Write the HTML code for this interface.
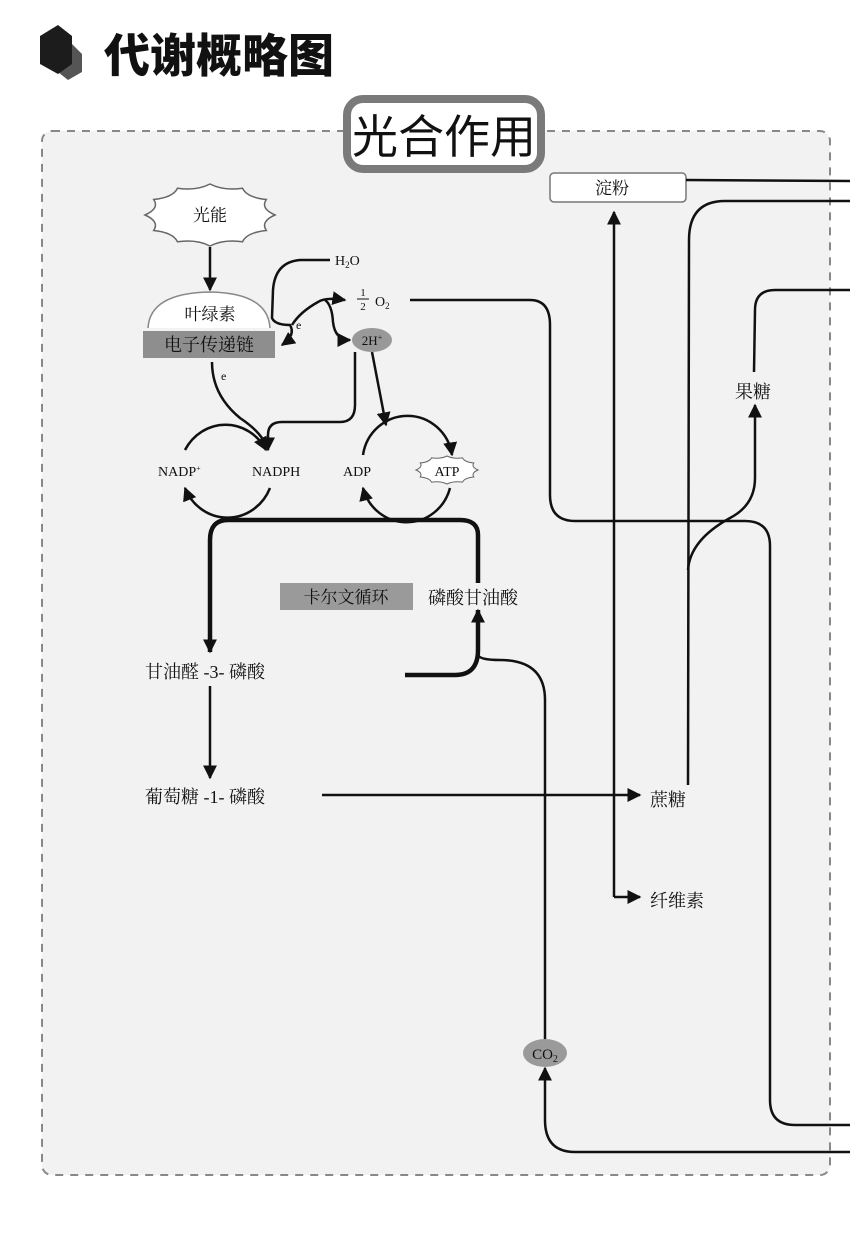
<!DOCTYPE html>
<html><head><meta charset="utf-8"><style>
html,body{margin:0;padding:0;background:#fff;}
svg{display:block;}
text{font-family:"Liberation Serif","Noto Serif CJK SC","Noto Sans CJK SC",serif;fill:#111;}
.cjk{font-family:"Liberation Sans","Noto Sans CJK SC",sans-serif;}
</style></head><body>
<svg width="850" height="1238" viewBox="0 0 850 1238" xmlns="http://www.w3.org/2000/svg">
<defs>
<marker id="ab" viewBox="0 0 10 10" refX="9" refY="5" markerWidth="14" markerHeight="14" orient="auto" markerUnits="userSpaceOnUse"><path d="M0,0L10,5L0,10z" fill="#111"/></marker>
</defs>
<!-- title -->
<polygon points="58,50 72,44 82,54 82,72 68,80 58,72" fill="#555"/>
<polygon points="40,36 58,25 72,36 72,64 58,74 40,64" fill="#1c1c1c"/>
<text x="104" y="72" class="cjk" font-size="46" style="font-family:'Noto Sans CJK SC',sans-serif;font-weight:900">代谢概略图</text>
<!-- dashed area -->
<rect x="42" y="131" width="788" height="1044" rx="10" fill="#f2f2f2" stroke="#888" stroke-width="2" stroke-dasharray="8,7"/>
<!-- title box -->
<rect x="347" y="99" width="194" height="70" rx="16" fill="#fff" stroke="#7a7a7a" stroke-width="8"/>
<text x="444" y="153" text-anchor="middle" class="cjk" font-size="46" style="font-family:'Noto Sans CJK SC',sans-serif">光合作用</text>
<!-- 淀粉 -->
<rect x="550" y="173" width="136" height="29" rx="4" fill="#fff" stroke="#777" stroke-width="1.5"/>
<text x="612" y="194" text-anchor="middle" font-size="17">淀粉</text>
<g fill="none" stroke="#111" stroke-width="2.5">
<path d="M686,180 L850,181"/>
<path d="M850,201 L725,201 Q689,201 689,240 L688,785"/>
<path d="M850,290 L775,290 Q755,290 755,310 L754,372"/>
<path d="M688,570 Q690,540 730,518 Q755,505 755,478 L755,405" marker-end="url(#ab)"/>
<path d="M410,300 L530,300 Q550,300 550,325 L550,495 Q550,521 575,521 L745,521 Q770,521 770,546 L770,1100 Q770,1125 795,1125 L850,1125"/>
<path d="M614,897 L614,212" marker-end="url(#ab)"/>
<path d="M614,897 L640,897" marker-end="url(#ab)"/>
<path d="M322,795 L640,795" marker-end="url(#ab)"/>
<path d="M478,655 Q480,660 500,660 Q545,660 545,700 L545,1040"/>
<path d="M850,1152 L575,1152 Q545,1152 545,1120 L545,1068" marker-end="url(#ab)"/>
</g>
<!-- thick calvin -->
<g fill="none" stroke="#111" stroke-width="4.5">
<path d="M405,675 L455,675 Q478,675 478,650 L478,610" marker-end="url(#ab)"/>
<path d="M478,583 L478,535 Q478,520 460,520 L228,520 Q210,520 210,540 L210,652" marker-end="url(#ab)"/>
</g>
<path d="M210,686 L210,778" stroke="#111" stroke-width="2.5" fill="none" marker-end="url(#ab)"/>
<rect x="280" y="583" width="133" height="27" fill="#9a9a9a"/>
<text x="346" y="603" text-anchor="middle" font-size="17" fill="#333">卡尔文循环</text>
<text x="428" y="604" font-size="18">磷酸甘油酸</text>
<text x="145" y="678" font-size="18">甘油醛 -3- 磷酸</text>
<text x="145" y="803" font-size="18">葡萄糖 -1- 磷酸</text>
<text x="650" y="806" font-size="18">蔗糖</text>
<text x="650" y="907" font-size="18">纤维素</text>
<text x="735" y="398" font-size="18">果糖</text>
<ellipse cx="545" cy="1053" rx="22" ry="14" fill="#9a9a9a"/>
<text x="545" y="1059" text-anchor="middle" font-size="15">CO<tspan font-size="10" dy="3">2</tspan></text>
<!-- light reaction -->
<path d="M275,215 Q260.2,221.4 266.3,230.5 Q246.8,232.5 242.5,241.8 Q223.5,239 210,246 Q196.5,239 177.5,241.8 Q173.2,232.5 153.7,230.5 Q159.8,221.4 145,215 Q159.8,208.6 153.7,199.5 Q173.2,197.5 177.5,188.2 Q196.5,191 210,184 Q223.5,191 242.5,188.2 Q246.8,197.5 266.3,199.5 Q260.2,208.6 275,215Z" fill="#fff" stroke="#666" stroke-width="1.5"/>
<text x="210" y="221" text-anchor="middle" font-size="17">光能</text>
<path d="M210,247 L210,290" stroke="#111" stroke-width="2.5" marker-end="url(#ab)"/>
<path d="M148,328 Q150,293 210,292 Q268,293 270,328" fill="#fff" stroke="#888" stroke-width="1.5"/>
<text x="210" y="320" text-anchor="middle" font-size="17">叶绿素</text>
<rect x="143" y="331" width="132" height="27" fill="#8e8e8e"/>
<text x="209" y="351" text-anchor="middle" font-size="18" fill="#222">电子传递链</text>
<g fill="none" stroke="#111" stroke-width="2.5">
<path d="M330,260 L300,260 Q275,262 273,290 L272,318 Q275,325 290,325 Q296,335 282,345" marker-end="url(#ab)"/>
<path d="M292,325 Q300,312 318,302 Q325,297 345,300" marker-end="url(#ab)"/>
<path d="M325,300 Q332,305 333,322 Q335,340 350,340" marker-end="url(#ab)"/>
<path d="M355,352 L355,405 Q355,422 340,422 L282,422 Q268,422 268,435 L268,450" marker-end="url(#ab)"/>
<path d="M372,352 L386,425" marker-end="url(#ab)"/>
<path d="M212,362 Q212,395 240,418 Q255,428 262,438"/>
<path d="M185,450 A46,48 0 0,1 266,450" marker-end="url(#ab)"/>
<path d="M270,488 A46,48 0 0,1 185,488" marker-end="url(#ab)"/>
<path d="M363,455 A45,46 0 0,1 452,455" marker-end="url(#ab)"/>
<path d="M450,488 A45,46 0 0,1 363,488" marker-end="url(#ab)"/>
</g>
<text x="335" y="265" font-size="14">H<tspan font-size="9" dy="3">2</tspan><tspan dy="-3">O</tspan></text>
<text x="296" y="329" font-size="12">e</text>
<text x="221" y="380" font-size="12">e</text>
<text x="363" y="296" font-size="11" text-anchor="middle">1</text>
<line x1="357" y1="299" x2="369" y2="299" stroke="#111" stroke-width="1"/>
<text x="363" y="310" font-size="11" text-anchor="middle">2</text>
<text x="375" y="306" font-size="14">O<tspan font-size="9" dy="3">2</tspan></text>
<ellipse cx="372" cy="340" rx="20" ry="12" fill="#999"/>
<text x="372" y="345" text-anchor="middle" font-size="13">2H<tspan font-size="8" dy="-5">+</tspan></text>
<text x="158" y="476" font-size="14">NADP<tspan font-size="8" dy="-5">+</tspan></text>
<text x="252" y="476" font-size="14">NADPH</text>
<text x="343" y="476" font-size="14">ADP</text>
<path d="M478,470 Q471,472.9 473.8,477 Q464.5,477.9 462.5,482.1 Q453.4,480.8 447,484 Q440.6,480.8 431.5,482.1 Q429.5,477.9 420.2,477 Q423,472.9 416,470 Q423,467.1 420.2,463 Q429.5,462.1 431.5,457.9 Q440.6,459.2 447,456 Q453.4,459.2 462.5,457.9 Q464.5,462.1 473.8,463 Q471,467.1 478,470Z" fill="#fff" stroke="#666" stroke-width="1"/>
<text x="447" y="476" text-anchor="middle" font-size="14">ATP</text>
</svg>
</body></html>
